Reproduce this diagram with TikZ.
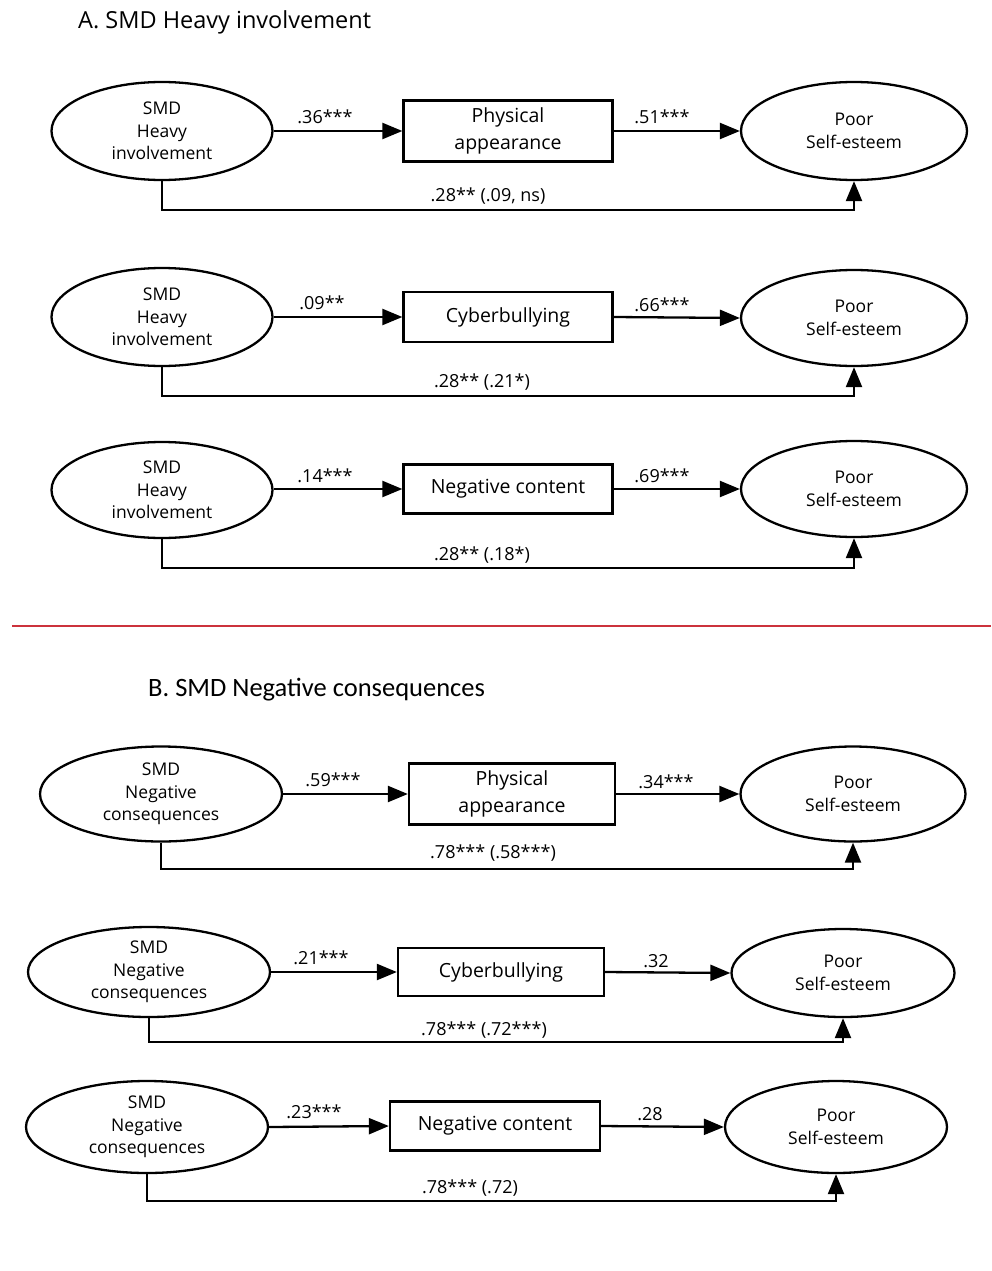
\documentclass[tikz,border=0pt]{standalone}
\usepackage{fontspec}
\setmainfont{Open Sans}
\newfontfamily\calfont{Carlito}
\usetikzlibrary{shapes.geometric,arrows.meta}
\definecolor{sepred}{RGB}{204,50,60}
\begin{document}
\begin{tikzpicture}[x=1pt,y=-1pt,
 ell/.style={draw,ellipse,line width=2.3pt,inner sep=0pt,align=center,font=\fontsize{17.5}{22.5}\selectfont},
 box/.style={draw,rectangle,line width=2.3pt,inner sep=0pt,align=center,font=\fontsize{19.5}{27}\selectfont},
 con/.style={line width=2.3pt,-{Triangle[length=20pt,width=16pt]}},
 lab/.style={font=\fontsize{18}{20}\selectfont,inner sep=0pt},
 ttl/.style={font=\fontsize{23.5}{28}\selectfont,inner sep=0pt,anchor=west}]
\useasboundingbox (0,0) rectangle (991,1271);

% Panel A title
\node[ttl] (ta) at (78,22) {A. SMD Heavy involvement};

% Row 1
\node[ell,minimum width=221,minimum height=98] (e1) at (162,131) {SMD\\Heavy\\involvement};
\node[box,minimum width=209,minimum height=61] (b1) at (508,131) {Physical\\appearance};
\node[ell,minimum width=226,minimum height=98] (r1) at (854,131) {Poor\\Self-esteem};
\draw[con] (e1.east) -- (b1.west);
\draw[con] (b1.east) -- (r1.west);
\draw[con] (e1.south) -- ++(0,29) -| (r1.south);
\node[lab] (l1a) at (325,117) {.36***};
\node[lab] (l1b) at (662,117) {.51***};
\node[lab] (l1c) at (488,196) {.28** (.09, ns)};

% Row 2
\node[ell,minimum width=221,minimum height=98] (e2) at (162,317) {SMD\\Heavy\\involvement};
\node[box,minimum width=209,minimum height=50] (b2) at (508,317) {Cyberbullying};
\node[ell,minimum width=226,minimum height=96] (r2) at (854,318) {Poor\\Self-esteem};
\draw[con] (e2.east) -- (b2.west);
\draw[con] (b2.east) -- (r2.west);
\draw[con] (e2.south) -- ++(0,29) -| (r2.south);
\node[lab] (l2a) at (322,303) {.09**};
\node[lab] (l2b) at (662,305) {.66***};
\node[lab] (l2c) at (482,382) {.28** (.21*)};

% Row 3
\node[ell,minimum width=221,minimum height=96] (e3) at (162,490) {SMD\\Heavy\\involvement};
\node[box,minimum width=209,minimum height=49] (b3) at (508,489) {Negative content};
\node[ell,minimum width=226,minimum height=96] (r3) at (854,489) {Poor\\Self-esteem};
\draw[con] (e3.east |- b3.west) -- (b3.west);
\draw[con] (b3.east) -- (r3.west);
\draw[con] (e3.south) -- ++(0,29) -| (r3.south);
\node[lab] (l3a) at (325,476) {.14***};
\node[lab] (l3b) at (662,476) {.69***};
\node[lab] (l3c) at (482,555) {.28** (.18*)};

% Separator
\coordinate (sepL) at (12,626);
\coordinate (sepR) at (991,626);
\draw[sepred,line width=2pt] (sepL) -- (sepR);

% Panel B title
\node[ttl,font=\calfont\fontsize{26.5}{30}\selectfont] (tb) at (148,690) {B. SMD Negative consequences};

% Row 4
\node[ell,minimum width=242,minimum height=95] (e4) at (161,794) {SMD\\Negative\\consequences};
\node[box,minimum width=206,minimum height=61] (b4) at (512,794) {Physical\\appearance};
\node[ell,minimum width=225,minimum height=95] (r4) at (853,794) {Poor\\Self-esteem};
\draw[con] (e4.east) -- (b4.west);
\draw[con] (b4.east) -- (r4.west);
\draw[con] (e4.south) -- ++(0,26) -| (r4.south);
\node[lab] (l4a) at (333,780) {.59***};
\node[lab] (l4b) at (666,782) {.34***};
\node[lab] (l4c) at (493,853) {.78*** (.58***)};

% Row 5
\node[ell,minimum width=242,minimum height=90] (e5) at (149,972) {SMD\\Negative\\consequences};
\node[box,minimum width=206,minimum height=48] (b5) at (501,972) {Cyberbullying};
\node[ell,minimum width=223,minimum height=88] (r5) at (843,973) {Poor\\Self-esteem};
\draw[con] (e5.east) -- (b5.west);
\draw[con] (b5.east) -- (r5.west);
\draw[con] (e5.south) -- ++(0,24) -| (r5.south);
\node[lab] (l5a) at (321,958) {.21***};
\node[lab] (l5b) at (656,961) {.32};
\node[lab] (l5c) at (484,1030) {.78*** (.72***)};

% Row 6
\node[ell,minimum width=242,minimum height=92] (e6) at (147,1127) {SMD\\Negative\\consequences};
\node[box,minimum width=210,minimum height=49] (b6) at (495,1126) {Negative content};
\node[ell,minimum width=222,minimum height=92] (r6) at (836,1127) {Poor\\Self-esteem};
\draw[con] (e6.east) -- (b6.west);
\draw[con] (b6.east) -- (r6.west);
\draw[con] (e6.south) -- ++(0,27) -| (r6.south);
\node[lab] (l6a) at (314,1112) {.23***};
\node[lab] (l6b) at (650,1114) {.28};
\node[lab] (l6c) at (470,1188) {.78*** (.72)};
\end{tikzpicture}
\end{document}
